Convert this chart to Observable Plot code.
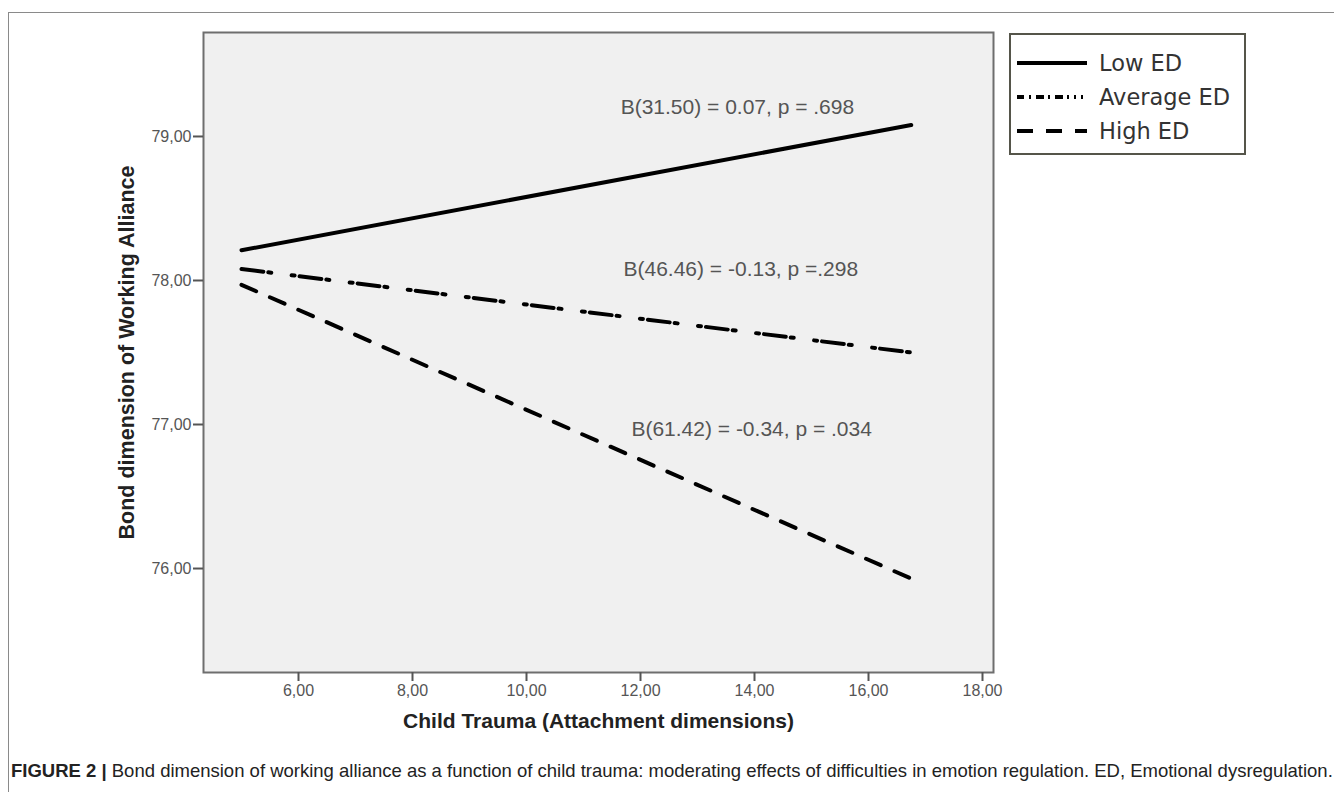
<!DOCTYPE html>
<html>
<head>
<meta charset="utf-8">
<script src="https://cdn.jsdelivr.net/npm/d3@7"></script>
<script src="https://cdn.jsdelivr.net/npm/@observablehq/plot@0.6"></script>
<style>
  html, body { margin: 0; padding: 0; background: #fff; }
  #wrap { position: relative; width: 1342px; height: 804px; overflow: hidden; background: #fff; }
  #chart { position: absolute; left: 0; top: 0; }
  #border-top { position: absolute; left: 8px; top: 12px; width: 1326px; height: 0; border-top: 1.5px solid #8a8a8a; }
  #border-left { position: absolute; left: 8px; top: 12px; width: 0; height: 780px; border-left: 1.5px solid #8a8a8a; }
  #legend { position: absolute; left: 1009px; top: 33px; width: 233px; height: 118px; border: 2px solid #55554a; background: #fff; }
  .lg-row { position: absolute; left: 0; height: 30px; display: flex; align-items: center; }
  .lg-row span { font-family: "DejaVu Sans", Verdana, sans-serif; font-size: 22.5px; color: #333; margin-left: 11px; }
  #caption { position: absolute; left: 11px; top: 760px; font-family: "Liberation Sans", Arial, sans-serif; font-size: 18.5px; color: #222; white-space: nowrap; }
  #caption b { font-weight: bold; }
</style>
</head>
<body>
<div id="wrap">
  <div id="border-top"></div>
  <div id="border-left"></div>
  <div id="chart"></div>
  <div id="legend"></div>
  <div id="caption"><b>FIGURE 2 |</b> Bond dimension of working alliance as a function of child trauma: moderating effects of difficulties in emotion regulation. ED, Emotional dysregulation.</div>
</div>
<script>
// ---- data ----
const seriesNames = ["Low ED", "Average ED", "High ED"];
const xValues = [5.0, 16.75];
const lowED = [78.21, 79.08];
const averageED = [78.08, 77.50];
const highED = [77.97, 75.93];
const xTicks = [6, 8, 10, 12, 14, 16, 18];
const yTicks = [76, 77, 78, 79];
const annotationLabels = ["B(31.50) = 0.07, p = .698", "B(46.46) = -0.13, p =.298", "B(61.42) = -0.34, p = .034"];
const annotationX = [13.70, 13.76, 13.95];
const annotationY = [79.20, 78.08, 76.97];
const xTitle = "Child Trauma (Attachment dimensions)";
const yTitle = "Bond dimension of Working Alliance";

// ---- build tables ----
const seriesValues = [lowED, averageED, highED];
const rows = seriesNames.flatMap((s, i) => xValues.map((x, j) => ({series: s, x, y: seriesValues[i][j]})));
const annotations = annotationLabels.map((t, i) => ({text: t, x: annotationX[i], y: annotationY[i]}));
const dashes = {"Low ED": null, "Average ED": "22,5,3,20.5,3,5", "High ED": "16,15"};
const fmt = d => d.toFixed(2).replace(".", ",");

const chart = Plot.plot({
  width: 1000,
  height: 760,
  marginLeft: 203,
  marginRight: 7,
  marginTop: 32,
  marginBottom: 88,
  x: {domain: [4.3333, 18.193]},
  y: {domain: [75.278, 79.722]},
  style: {fontFamily: "'Liberation Sans', Arial, sans-serif", background: "transparent", overflow: "visible"},
  marks: [
    Plot.frame({fill: "#f0f0f0", stroke: "#6e6e6e", strokeWidth: 2}),
    Plot.axisX({ticks: xTicks, tickFormat: fmt, tickSize: 9, tickPadding: 3, fontSize: 16, color: "#555", strokeWidth: 2, label: null}),
    Plot.axisY({ticks: yTicks, tickFormat: fmt, tickSize: 10, tickPadding: 2, fontSize: 16, color: "#555", strokeWidth: 2, label: null}),
    Plot.text([xTitle], {frameAnchor: "bottom", dy: 55, text: d => d, fontSize: 21, fontWeight: "bold", fill: "#222"}),
    Plot.text([yTitle], {frameAnchor: "left", dx: -76, text: d => d, rotate: -90, textAnchor: "middle", fontSize: 21.5, fontWeight: "bold", fill: "#222"}),
    ...seriesNames.map(s => Plot.line(rows.filter(r => r.series === s), {
      x: "x", y: "y", stroke: "#000", strokeWidth: 4,
      strokeDasharray: dashes[s]
    })),
    Plot.text(annotations, {x: "x", y: "y", text: "text", fontSize: 21, fill: "#555", textAnchor: "middle"})
  ]
});
document.getElementById("chart").appendChild(chart);

// ---- legend ----
const legendDash = {"Low ED": null, "Average ED": "7,5,2,5,8,4,2,5,8,4,2,5,2,5,2", "High ED": "16,13"};
const legend = document.getElementById("legend");
const rowTops = [13, 47, 81];
seriesNames.forEach((s, i) => {
  const row = document.createElement("div");
  row.className = "lg-row";
  row.style.top = rowTops[i] + "px";
  row.style.left = "5px";
  const svg = d3.create("svg").attr("width", 72).attr("height", 30);
  svg.append("line").attr("x1", 1).attr("x2", 71).attr("y1", 15).attr("y2", 15)
    .attr("stroke", "#000").attr("stroke-width", 4)
    .attr("stroke-dasharray", legendDash[s]);
  row.appendChild(svg.node());
  const label = document.createElement("span");
  label.textContent = s;
  row.appendChild(label);
  legend.appendChild(row);
});
</script>
</body>
</html>
